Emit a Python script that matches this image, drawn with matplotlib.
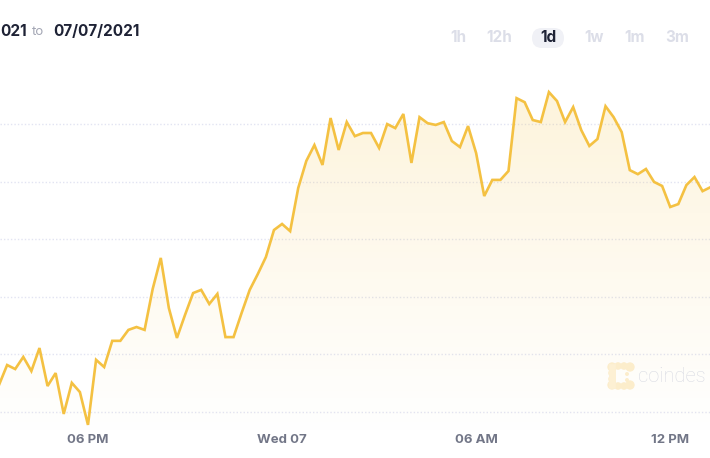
import matplotlib
matplotlib.use("Agg")
import matplotlib.pyplot as plt
import matplotlib.transforms as mtransforms
from matplotlib.patches import FancyBboxPatch
import numpy as np

plt.rcParams['font.family'] = ['Inter', 'DejaVu Sans']

# hours after 06 PM (Tue 06), one point every 15 minutes
start_hour = -2.75
step_hour = 0.25
prices = [
    33894, 33963, 33949, 33991, 33942, 34022, 33890, 33935, 33793, 33901,
    33869, 33755, 33981, 33956, 34047, 34047, 34085, 34095, 34085, 34227,
    34335, 34161, 34057, 34137, 34213, 34224, 34175, 34210, 34060, 34060,
    34144, 34224, 34279, 34338, 34432, 34453, 34428, 34578, 34672, 34727,
    34658, 34821, 34710, 34807, 34758, 34769, 34769, 34717, 34800, 34786,
    34835, 34665, 34824, 34803, 34797, 34807, 34741, 34720, 34793, 34699,
    34550, 34606, 34606, 34637, 34890, 34876, 34814, 34807, 34911, 34880,
    34807, 34859, 34779, 34724, 34748, 34862, 34824, 34772, 34640, 34626,
    34644, 34599, 34585, 34512, 34522, 34588, 34616, 34567, 34581,
]
hours = start_hour + step_hour * np.arange(len(prices))

tick_hours = [0, 6, 12, 18]
tick_labels = ["06 PM", "Wed 07", "06 AM", "12 PM"]
grid_levels = [33800, 34000, 34200, 34400, 34600, 34800]
ranges = ["1h", "12h", "1d", "1w", "1m", "3m"]
active_range = "1d"

line_color = "#F4C142"
W, H = 710, 458

fig = plt.figure(figsize=(7.1, 4.58), dpi=100)
ax = fig.add_axes([0, 0, 1, 1])
ax.set_xlim(-2.72, 19.23)
ax.set_ylim(33640, 35231)
ax.axis("off")

for g in grid_levels:
    ax.axhline(g, color="#E2E4F2", lw=1.0, ls=(0, (1, 1.5)), zorder=1)

# gradient fill under the line
y_bottom = 33700
grad = np.linspace(0, 1, 256)
rgba = np.zeros((256, 1, 4))
rgba[:, 0, 0] = 0.97
rgba[:, 0, 1] = 0.78
rgba[:, 0, 2] = 0.30
rgba[:, 0, 3] = 0.20 * grad ** 1.1
img = ax.imshow(rgba, extent=[-3, 20, y_bottom, max(prices)], origin="lower",
                aspect="auto", zorder=2)
poly = ax.fill_between(hours, prices, y_bottom, color="none", lw=0)
img.set_clip_path(poly.get_paths()[0], transform=ax.transData)

ax.plot(hours, prices, color=line_color, lw=1.9, solid_joinstyle="miter", zorder=3)

trans = mtransforms.blended_transform_factory(ax.transData, ax.transAxes)
for h, lab in zip(tick_hours, tick_labels):
    ax.text(h, 1 - 440 / H, lab, transform=trans, ha="center", va="center",
            fontsize=9.5, fontweight="bold", color="#727687")

# header
fig.text(0, 1 - 32 / H, "021", ha="left", va="center", fontsize=11,
         fontweight="bold", color="#1E2235")
fig.text(32 / W, 1 - 32 / H, "to", ha="left", va="center", fontsize=9.5,
         color="#A3A6B4")
fig.text(53 / W, 1 - 32 / H, "07/07/2021", ha="left", va="center", fontsize=11,
         fontweight="bold", color="#1E2235")

range_x = [458, 499, 548, 594, 635, 677]
for rx, r in zip(range_x, ranges):
    if r == active_range:
        pill = FancyBboxPatch((rx - 16, H - 48), 32, 20,
                              boxstyle="round,pad=0,rounding_size=10",
                              transform=mtransforms.IdentityTransform(),
                              facecolor="#F0F1F6", edgecolor="none")
        fig.add_artist(pill)
        fig.text(rx / W, 1 - 37 / H, r, ha="center", va="center", fontsize=11,
                 fontweight="bold", color="#1E2235")
    else:
        fig.text(rx / W, 1 - 37 / H, r, ha="center", va="center", fontsize=11,
                 fontweight="bold", color="#DCDEE8")

# watermark
logo_x = [612, 618, 624, 630, 612, 612, 612, 618, 624, 630, 627, 627]
logo_y = [367, 366, 366, 367, 373, 379, 385, 386, 386, 385, 374, 380]
logo_s = [45, 30, 30, 45, 30, 30, 45, 30, 30, 45, 8, 8]
fig.add_artist(plt.Line2D([612, 612], [H - 367, H - 385], color="#FDF0D3", lw=5,
                          transform=mtransforms.IdentityTransform()))
ax.scatter([x / W for x in logo_x], [1 - y / H for y in logo_y], s=logo_s,
           transform=fig.transFigure, color="#FCEDCB", lw=0, zorder=4)
fig.text(638 / W, 1 - 377 / H, "coindes", ha="left", va="center",
         fontsize=14.5, fontweight="light", family="Roboto", color="#D9DBE3")

fig.savefig("out.png", dpi=100)
